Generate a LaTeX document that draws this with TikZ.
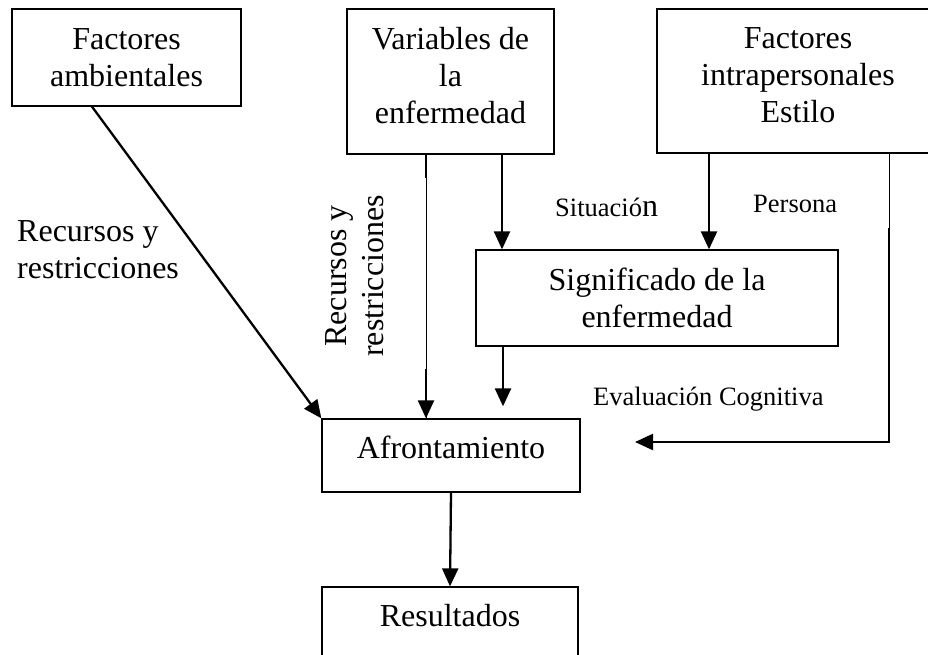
\documentclass[tikz,border=0pt]{standalone}
\usepackage{fontspec}
\setmainfont{Liberation Serif}
\usetikzlibrary{arrows.meta,calc}
\newcommand\bxfont{\fontsize{32}{37}\selectfont}
\newcommand\lbfont{\fontsize{26.5}{31}\selectfont}
\begin{document}
\begin{tikzpicture}[x=1pt,y=-1pt,
  box/.style={draw,line width=1.3pt,inner sep=0pt,align=center,font=\bxfont},
  lbl/.style={inner sep=0pt,anchor=base west,font=\lbfont},
  thk/.style={line width=2.3pt},
  thn/.style={line width=0.8pt},
  arr/.style={line width=2.3pt,-{Triangle[length=18pt,width=16pt]}}]
\useasboundingbox (0,0) rectangle (928,655);
% boxes
\node[box,minimum width=229pt,minimum height=97pt] (fa) at (126.5,57.5) {Factores\\ambientales};
\node[box,minimum width=207pt,minimum height=145pt] (ve) at (450.5,81.5) {Variables de\\la\\enfermedad\rule[-13pt]{0pt}{13pt}};
\node[box,minimum width=282pt,minimum height=144pt] (fi) at (798,81) {Factores\\intrapersonales\\Estilo\rule[-11pt]{0pt}{11pt}};
\node[box,minimum width=362pt,minimum height=96pt] (si) at (657,298) {Significado de la\\enfermedad};
\node[box,minimum width=258pt,minimum height=73pt] (af) at (451,455.5) {Afrontamiento\rule[-16pt]{0pt}{16pt}};
\node[box,minimum width=256pt,minimum height=100pt] (re) at (450,637) {Resultados\rule[-44pt]{0pt}{44pt}};
% labels
\node[inner sep=0pt,anchor=north west,align=left,font=\bxfont] (rr1) at (17,220.8) {Recursos y\\restricciones};
\node[inner sep=0pt,rotate=90,align=center,font=\bxfont] (rr2) at (354.4,276) {Recursos y\\restricciones};
\node[lbl] (sit) at (555,216) {Situació{\bxfont n}};
\node[lbl] (per) at (753,212) {Persona};
\node[lbl] (eva) at (593,405) {Evaluación Cognitiva};
% connectors
\draw[arr] ($(fa.south)+(-34.5,0)$) -- (af.north west);
\draw[thn] ($(ve.south)+(-24.5,0)$) -- ($(af.north)+(-25,0)$);
\draw[thk] ($(ve.south)+(-24.5,0)$) -- ++(0,23);
\draw[arr] ($(af.north)+(-25,-49)$) -- ($(af.north)+(-25,0)$);
\draw[arr] ($(ve.south)+(51.5,0)$) -- ($(si.north)+(-155,0)$);
\draw[arr] ($(si.south)+(-154,0)$) -- ($(af.north)+(52,-12)$);
\draw[arr] ($(fi.south)+(-89,0)$) -- ($(si.north)+(52,0)$);
\coordinate (ec) at (635,442);
\draw[thn] ($(fi.south)+(91,0)$) -- ++(0,74);
\draw[arr] ($(fi.south)+(91,74)$) |- (ec);
\draw[arr] (af.south) -- (re.north);
\end{tikzpicture}
\end{document}
